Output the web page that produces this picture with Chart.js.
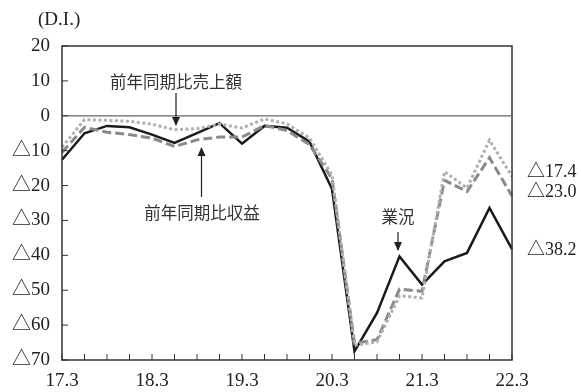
<!DOCTYPE html>
<html><head><meta charset="utf-8">
<script src="https://cdn.jsdelivr.net/npm/chart.js@4/dist/chart.umd.min.js"></script>
<style>html,body{margin:0;padding:0;background:#fff}canvas{display:block}</style>
</head><body>
<canvas id="c" width="581" height="392"></canvas>
<script>
const quarters = ['17.3','17.6','17.9','17.12','18.3','18.6','18.9','18.12','19.3','19.6','19.9','19.12','20.3','20.6','20.9','20.12','21.3','21.6','21.9','21.12','22.3'];
const gyokyo = [-12.6,-5.0,-2.9,-3.3,-5.4,-7.8,-5.0,-2.1,-8.0,-2.9,-3.4,-7.4,-21.0,-67.5,-56.5,-40.3,-48.4,-41.7,-39.3,-26.4,-38.2];
const uriage = [-9.0,-1.1,-1.3,-1.6,-2.4,-4.0,-3.7,-2.4,-3.5,-0.9,-2.3,-6.4,-17.0,-65.8,-64.8,-51.6,-52.2,-16.0,-20.7,-7.0,-17.4];
const shueki = [-10.5,-3.3,-4.7,-5.4,-6.4,-8.8,-6.9,-6.1,-6.1,-2.8,-4.2,-8.3,-18.0,-65.2,-64.2,-49.7,-50.3,-18.5,-21.7,-12.0,-23.0];
const yTicks = [20,10,0,-10,-20,-30,-40,-50,-60,-70];
const fmt = v => v < 0 ? '△' + (-v) : String(v);
const fmt1 = v => v < 0 ? '△' + (-v).toFixed(1) : v.toFixed(1);
const SERIF = "'Liberation Serif','Noto Sans CJK JP',serif";
const SANS = "'Noto Sans CJK JP','Noto Sans',sans-serif";

const deco = {
  id: 'deco',
  afterDraw(chart) {
    const {ctx, chartArea: a, scales: {x, y}} = chart;
    ctx.save();
    ctx.strokeStyle = '#333'; ctx.lineWidth = 1.5;
    ctx.strokeRect(a.left, a.top, a.right - a.left, a.bottom - a.top);
    ctx.lineWidth = 1.2; ctx.strokeStyle = '#666';
    ctx.beginPath(); ctx.moveTo(a.left, y.getPixelForValue(0)); ctx.lineTo(a.right, y.getPixelForValue(0)); ctx.stroke();
    ctx.strokeStyle = '#333'; ctx.lineWidth = 1;
    yTicks.forEach(v => { const py = y.getPixelForValue(v); ctx.beginPath(); ctx.moveTo(a.left, py); ctx.lineTo(a.left + 6, py); ctx.stroke(); });
    quarters.forEach((q, i) => { const px = x.getPixelForValue(i); ctx.beginPath(); ctx.moveTo(px, a.bottom); ctx.lineTo(px, a.bottom - 6); ctx.stroke(); });
    ctx.fillStyle = '#222'; ctx.font = '19px ' + SERIF; ctx.textBaseline = 'middle'; ctx.textAlign = 'left';
    ctx.fillText('(D.I.)', 38, 20);
    const last = quarters.length - 1;
    ctx.font = '18px ' + SERIF;
    ctx.fillText(fmt1(uriage[last]), 527, y.getPixelForValue(uriage[last]) - 4);
    ctx.fillText(fmt1(shueki[last]), 527, y.getPixelForValue(shueki[last]) - 4);
    ctx.fillText(fmt1(gyokyo[last]), 527, y.getPixelForValue(gyokyo[last]) + 1);
    ctx.font = '16.5px ' + SANS; ctx.textAlign = 'center'; ctx.fillStyle = '#333';
    ctx.fillText('前年同期比売上額', 176, 82);
    ctx.fillText('前年同期比収益', 202, 213);
    ctx.fillText('業況', 398, 217);
    const arrow = (x0, y0, y1) => {
      ctx.strokeStyle = '#222'; ctx.fillStyle = '#222'; ctx.lineWidth = 1.2;
      ctx.beginPath(); ctx.moveTo(x0, y0); ctx.lineTo(x0, y1); ctx.stroke();
      const d = y1 > y0 ? 1 : -1;
      ctx.beginPath(); ctx.moveTo(x0, y1 + d); ctx.lineTo(x0 - 4, y1 - d * 8); ctx.lineTo(x0 + 4, y1 - d * 8); ctx.closePath(); ctx.fill();
    };
    arrow(176, 93, 125);
    arrow(201.5, 197, 148);
    arrow(398, 232, 250);
    ctx.restore();
  }
};

new Chart(document.getElementById('c'), {
  type: 'line',
  data: {
    labels: quarters,
    datasets: [
      {label: '前年同期比売上額', data: uriage, borderColor: '#b0b0b0', borderWidth: 3, borderDash: [3, 2.5], pointRadius: 0, tension: 0, fill: false},
      {label: '前年同期比収益', data: shueki, borderColor: '#8a8a8a', borderWidth: 3, borderDash: [9, 4], pointRadius: 0, tension: 0, fill: false},
      {label: '業況', data: gyokyo, borderColor: '#1a1a1a', borderWidth: 2.5, pointRadius: 0, tension: 0, fill: false}
    ]
  },
  options: {
    responsive: false, animation: false,
    layout: {padding: {left: 0, right: 69, top: 46, bottom: 0}},
    plugins: {legend: {display: false}, tooltip: {enabled: false}},
    scales: {
      x: {
        type: 'category', offset: false,
        grid: {display: false, drawTicks: false},
        border: {display: false},
        ticks: {autoSkip: false, maxRotation: 0, minRotation: 0, padding: 10, color: '#222', font: {family: SERIF, size: 19},
          callback: (v, i) => quarters[i].endsWith('.3') ? quarters[i] : ''},
        afterFit: s => { s.height = 32; }
      },
      y: {
        min: -70, max: 20,
        grid: {display: false, drawTicks: false},
        border: {display: false},
        ticks: {stepSize: 10, padding: 12, color: '#222', font: {family: SERIF, size: 19}, callback: v => fmt(v)},
        afterFit: s => { s.width = 62; }
      }
    }
  },
  plugins: [deco]
});
</script>
</body></html>
